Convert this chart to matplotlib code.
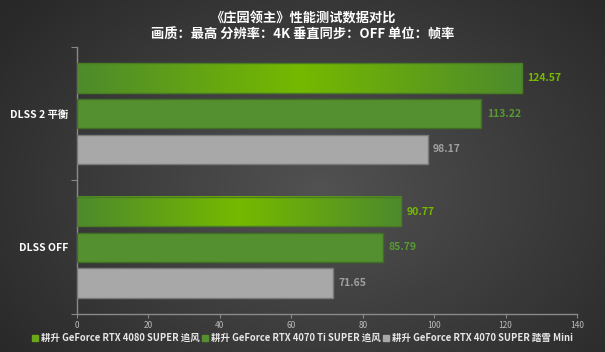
import numpy as np
import matplotlib.pyplot as plt
from matplotlib.colors import LinearSegmentedColormap

plt.rcParams['font.family'] = ['Noto Sans CJK SC', 'DejaVu Sans']

# 数据
categories = ["DLSS 2 平衡", "DLSS OFF"]
series = ["耕升 GeForce RTX 4080 SUPER 追风",
          "耕升 GeForce RTX 4070 Ti SUPER 追风",
          "耕升 GeForce RTX 4070 SUPER 踏雪 Mini"]
values = [[124.57, 90.77],
          [113.22, 85.79],
          [98.17, 71.65]]
bar_colors = ["#76b900", "#548f30", "#a8a8a8"]
label_colors = ["#76b900", "#579a33", "#a0a0a0"]
edge_colors = ["#4a7d22", "#3f6e24", "#7a7a7a"]

title1 = "《庄园领主》性能测试数据对比"
title2 = "画质：最高 分辨率：4K 垂直同步：OFF 单位：帧率"

fig = plt.figure(figsize=(6.05, 3.52), dpi=100)

# 背景径向渐变
bg = fig.add_axes([0, 0, 1, 1], zorder=-10)
yy, xx = np.mgrid[0:352, 0:605]
r = np.sqrt(((xx - 320) / 420.0) ** 2 + ((yy - 190) / 300.0) ** 2)
shade = np.clip(0.32 - 0.17 * r, 0.16, 0.32)
bg.imshow(np.dstack([shade] * 3), aspect='auto', extent=[0, 1, 0, 1])
bg.axis('off')

ax = fig.add_axes([0.1273, 0.108, 0.8264, 0.7585])
ax.patch.set_alpha(0)

green_cmap = LinearSegmentedColormap.from_list(
    "g", ["#4d8a2c", "#76b900", "#4d8a2c"])

offsets = [-0.267, 0.0, 0.267]
h = 0.22
for i in range(3):
    for j in range(2):
        v = values[i][j]
        y = j + 0.5 + offsets[i]
        if i == 0:
            grad = np.linspace(0, 1, 256).reshape(1, -1)
            ax.imshow(grad, cmap=green_cmap, aspect='auto',
                      extent=[0, v, y + h / 2, y - h / 2], zorder=2)
            ax.barh(y, v, height=h, color='none', edgecolor=edge_colors[i],
                    linewidth=1, zorder=3)
        else:
            ax.barh(y, v, height=h, color=bar_colors[i],
                    edgecolor=edge_colors[i], linewidth=1, zorder=3)
        ax.text(v + 1.5, y, f"{v:.2f}", va='center', ha='left',
                fontsize=7.5, fontweight='bold', color=label_colors[i])

ax.set_xlim(0, 140)
ax.set_ylim(2, 0)
ax.set_xticks(range(0, 141, 20))
ax.set_yticks([0, 1, 2], minor=False)
ax.set_yticklabels([])
ax.set_yticks([0.5, 1.5], minor=True)
ax.set_yticklabels(categories, minor=True)
ax.tick_params(axis='y', which='minor', length=0, pad=6,
               labelsize=7.5, labelcolor='white')
for t in ax.get_yticklabels(minor=True):
    t.set_fontweight('bold')
ax.tick_params(axis='y', which='major', length=4, color='#888888')
ax.tick_params(axis='x', length=3, color='#888888', labelsize=6,
               labelcolor='#bbbbbb', pad=2)

for s in ['top', 'right']:
    ax.spines[s].set_visible(False)
for s in ['left', 'bottom']:
    ax.spines[s].set_color('#8a8a8a')
    ax.spines[s].set_linewidth(1)

fig.text(0.5, 0.948, title1, ha='center', va='center', fontsize=9.5,
         fontweight='bold', color='white')
fig.text(0.5, 0.902, title2, ha='center', va='center', fontsize=9.5,
         fontweight='bold', color='white')

# 图例
handles = [plt.Rectangle((0, 0), 1, 1, color=c) for c in
           ["#6aa81a", "#548f30", "#a8a8a8"]]
leg = fig.legend(handles, series, loc='center', bbox_to_anchor=(0.5, 0.04),
                 ncol=3, frameon=False, handlelength=0.6,
                 handleheight=0.6, handletextpad=0.3, columnspacing=0.3,
                 labelcolor='#e6e6e6', prop={'weight': 'bold', 'size': 6.8})

fig.savefig("out.png", dpi=100)
